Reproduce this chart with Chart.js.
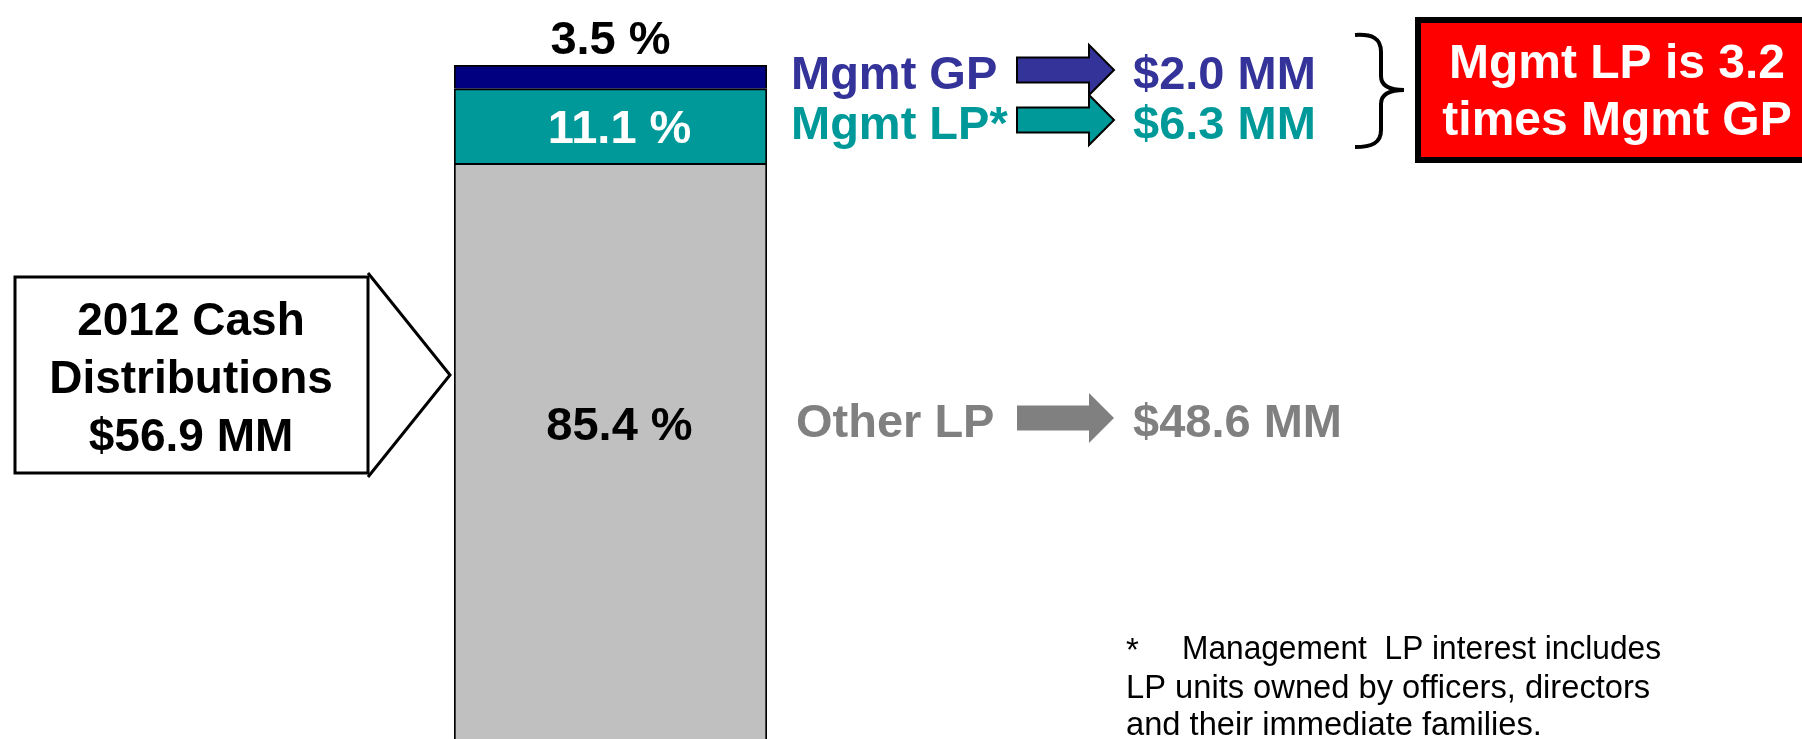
<!DOCTYPE html>
<html>
<head>
<meta charset="utf-8">
<title>2012 Cash Distributions</title>
<script src="https://cdn.jsdelivr.net/npm/chart.js@4.4.1/dist/chart.umd.min.js"></script>
<style>
  html, body { margin: 0; padding: 0; background: #fff; }
  #wrap { width: 1802px; height: 739px; }
</style>
</head>
<body>
<div id="wrap"><canvas id="distChart" width="1802" height="739"></canvas></div>
<script>
// --- datos ---
const categories = ['2012'];
const seriesNames = ['Other LP', 'Mgmt LP*', 'Mgmt GP'];   // de abajo hacia arriba
const sharePct = [85.4, 11.1, 3.5];
const cashMM = [48.6, 6.3, 2.0];
const totalMM = 56.9;
const barColors = ['#c0c0c0', '#009999', '#000080'];
const textColors = ['#808080', '#009999', '#333399'];
const pctTextColors = ['#000000', '#ffffff', '#000000'];
const calloutLines = ['2012 Cash', 'Distributions', '$' + totalMM.toFixed(1) + ' MM'];
const ratioLines = ['Mgmt LP is 3.2', 'times Mgmt GP'];
const footnoteLines = ['Management  LP interest includes', 'LP units owned by officers, directors', 'and their immediate families.'];

const FONT = '"Liberation Sans", Arial, sans-serif';
const Y_NUDGE = 4;   // 'middle' queda un poco alto respecto al centro de mayúsculas

function txt(ctx, s, x, y, size, color, align, weight, sx) {
    ctx.save();
    ctx.font = (weight || 'bold') + ' ' + size + 'px ' + FONT;
    ctx.fillStyle = color;
    ctx.textAlign = align || 'left';
    ctx.textBaseline = 'middle';
    ctx.translate(x, y + Y_NUDGE);
    if (sx) ctx.scale(sx, 1);
    ctx.fillText(s, 0, 0);
    ctx.restore();
}

// flecha horizontal: cola x0, inicio de punta xh, punta x1
function arrow(ctx, x0, xh, x1, cy, shaftH, headH, fill, stroke) {
    ctx.save();
    ctx.beginPath();
    ctx.moveTo(x0, cy - shaftH / 2);
    ctx.lineTo(xh, cy - shaftH / 2);
    ctx.lineTo(xh, cy - headH / 2);
    ctx.lineTo(x1, cy);
    ctx.lineTo(xh, cy + headH / 2);
    ctx.lineTo(xh, cy + shaftH / 2);
    ctx.lineTo(x0, cy + shaftH / 2);
    ctx.closePath();
    ctx.fillStyle = fill;
    ctx.fill();
    if (stroke) {
        ctx.lineWidth = 2;
        ctx.strokeStyle = stroke;
        ctx.lineJoin = 'miter';
        ctx.stroke();
    }
    ctx.restore();
}

const slideMarks = {
    id: 'slideMarks',
    afterDatasetsDraw(chart) {
        const ctx = chart.ctx;

        // etiquetas de porcentaje sobre cada segmento
        sharePct.forEach((v, i) => {
            const bar = chart.getDatasetMeta(i).data[0];
            const label = v.toFixed(1) + ' %';
            let y = (bar.y + bar.base) / 2;
            let x = bar.x + 9;
            if (i === 2) { y = bar.y - 28; x = bar.x; }      // GP va encima de la barra
            if (i === 0) { y = y - 28; }
            txt(ctx, label, x, y, 47, pctTextColors[i], 'center');
        });

        // filas: nombre -> flecha -> monto
        const rows = [
            { i: 2, y: 70, nameX: 791, stroke: '#000' },
            { i: 1, y: 120, nameX: 791, stroke: '#000' },
            { i: 0, y: 418, nameX: 796, stroke: null }
        ];
        rows.forEach(r => {
            txt(ctx, seriesNames[r.i], r.nameX, r.y + 2, 47, textColors[r.i], 'left');
            arrow(ctx, 1017, 1089, 1114, r.y, 25, 50, textColors[r.i], r.stroke);
            txt(ctx, '$' + cashMM[r.i].toFixed(1) + ' MM', 1133, r.y + 2, 47, textColors[r.i], 'left');
        });

        // llave
        ctx.save();
        ctx.strokeStyle = '#000';
        ctx.lineWidth = 4;
        ctx.beginPath();
        ctx.moveTo(1355, 35);
        ctx.bezierCurveTo(1372, 34, 1381, 38, 1381, 52);
        ctx.lineTo(1381, 76);
        ctx.bezierCurveTo(1381, 86, 1390, 90, 1404, 90);
        ctx.bezierCurveTo(1390, 90, 1381, 94, 1381, 104);
        ctx.lineTo(1381, 130);
        ctx.bezierCurveTo(1381, 143, 1372, 147, 1355, 147);
        ctx.stroke();
        ctx.restore();

        // caja roja
        ctx.save();
        ctx.fillStyle = '#ff0000';
        ctx.fillRect(1418, 20, 420, 140);
        ctx.lineWidth = 6;
        ctx.strokeStyle = '#000';
        ctx.strokeRect(1418, 20, 420, 140);
        ctx.restore();
        txt(ctx, ratioLines[0], 1617, 61, 48, '#ffffff', 'center');
        txt(ctx, ratioLines[1], 1617, 118, 48, '#ffffff', 'center');

        // caja de llamada izquierda con punta
        ctx.save();
        ctx.fillStyle = '#fff';
        ctx.strokeStyle = '#000';
        ctx.lineWidth = 3;
        ctx.beginPath();
        ctx.rect(15, 277, 353, 196);
        ctx.fill();
        ctx.stroke();
        ctx.beginPath();
        ctx.moveTo(368, 273);
        ctx.lineTo(450, 375);
        ctx.lineTo(368, 477);
        ctx.stroke();
        ctx.restore();
        txt(ctx, calloutLines[0], 191, 318, 46, '#000', 'center');
        txt(ctx, calloutLines[1], 191, 376, 46, '#000', 'center');
        txt(ctx, calloutLines[2], 191, 434, 46, '#000', 'center');

        // nota al pie
        txt(ctx, '*', 1126, 648, 33, '#000', 'left', 'normal');
        txt(ctx, footnoteLines[0], 1182, 646, 33, '#000', 'left', 'normal', 0.96);
        txt(ctx, footnoteLines[1], 1126, 685, 33, '#000', 'left', 'normal', 0.99);
        txt(ctx, footnoteLines[2], 1126, 722, 33, '#000', 'left', 'normal', 0.99);
    }
};

const ctx = document.getElementById('distChart').getContext('2d');
new Chart(ctx, {
    type: 'bar',
    data: {
        labels: categories,
        datasets: seriesNames.map((name, i) => ({
            label: name,
            data: [sharePct[i]],
            backgroundColor: barColors[i],
            borderColor: '#000',
            borderWidth: { left: 2, right: 2, top: 2, bottom: 0 },
            borderSkipped: false,
            barPercentage: 1,
            categoryPercentage: 1
        }))
    },
    options: {
        responsive: false,
        animation: false,
        layout: { padding: { left: 454, right: 1035, top: 65, bottom: 0 } },
        scales: {
            x: { stacked: true, display: false },
            y: { stacked: true, display: false, min: 0, max: 100 }
        },
        plugins: { legend: { display: false }, tooltip: { enabled: false } }
    },
    plugins: [slideMarks]
});
</script>
</body>
</html>
